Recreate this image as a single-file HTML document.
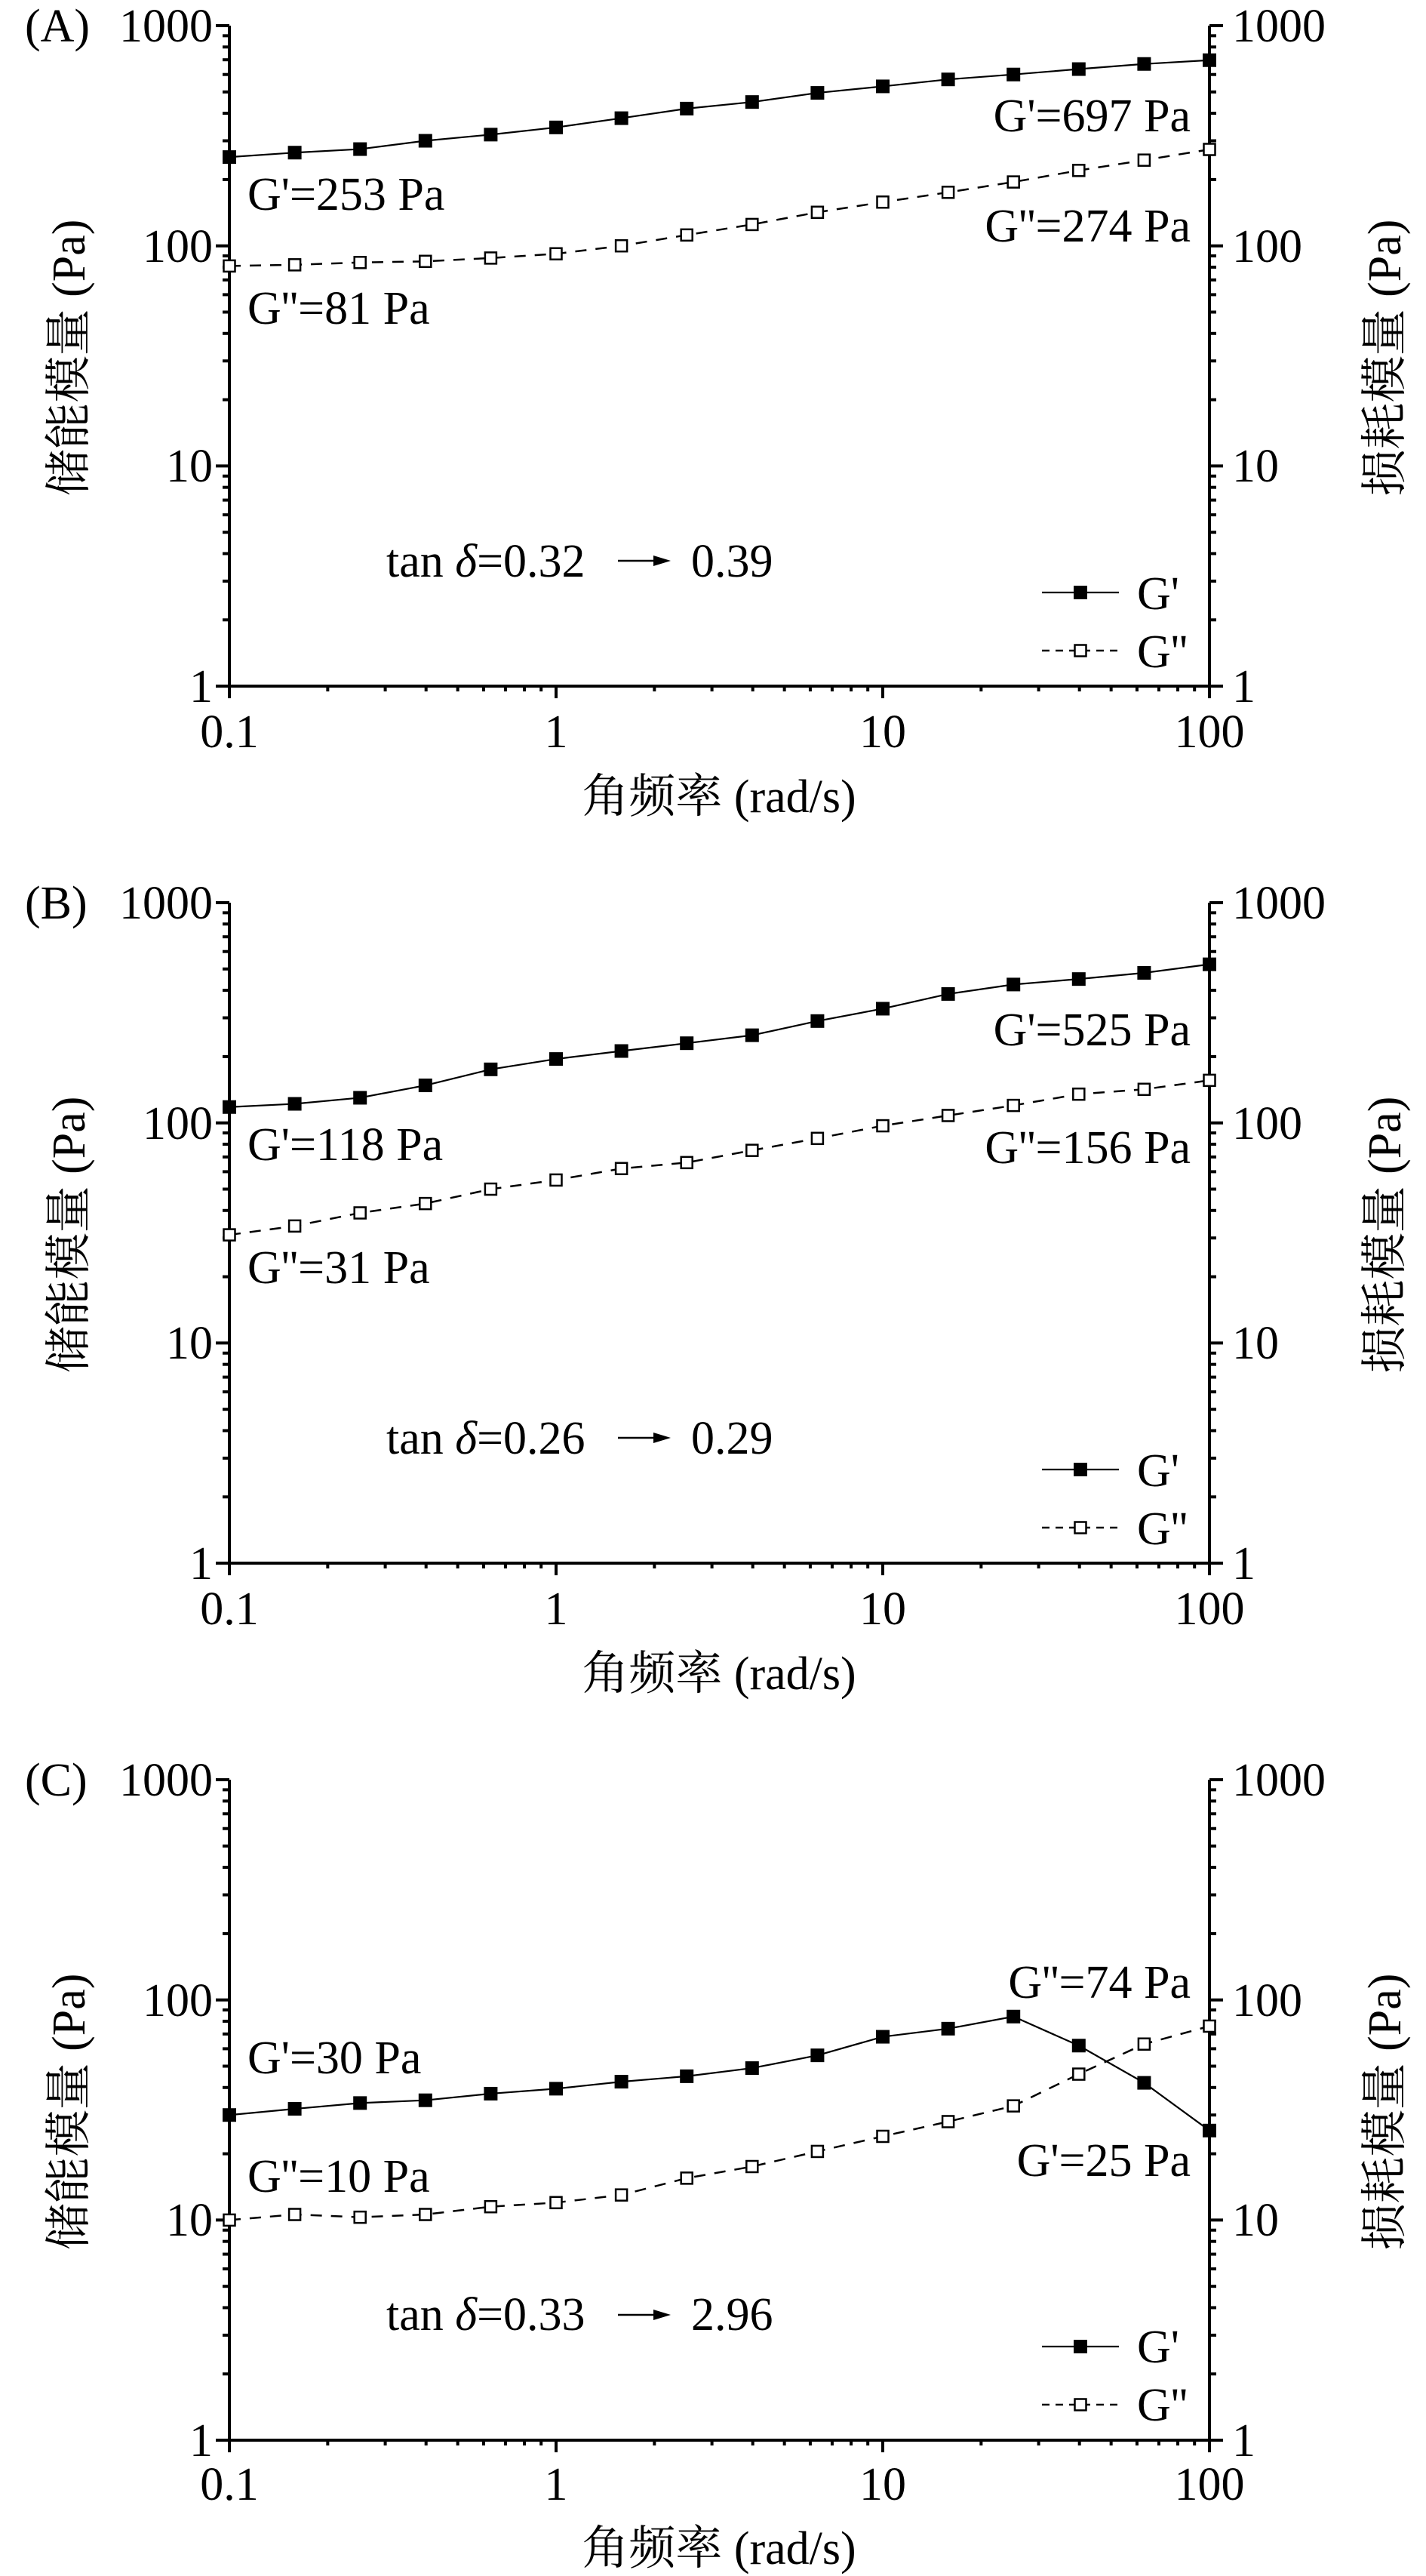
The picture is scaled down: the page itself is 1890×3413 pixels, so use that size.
<!DOCTYPE html>
<html><head><meta charset="utf-8">
<style>
html,body{margin:0;padding:0;background:#fff;}
svg{display:block;}
svg text{font-family:"Liberation Serif","Times New Roman","DejaVu Serif","Noto Serif CJK SC",serif;font-size:62px;fill:#000;}
</style></head>
<body>
<svg id="s" width="1890" height="3413" xmlns="http://www.w3.org/2000/svg" font-family="Liberation Serif, Times New Roman, DejaVu Serif, Noto Serif CJK SC, serif" font-size="62">
<g id="g"></g>
<!-- Panel A (top 34) -->
<text x="33" y="55">(A)</text>
<text x="282" y="55" text-anchor="end">1000</text>
<text x="282" y="347" text-anchor="end">100</text>
<text x="282" y="638" text-anchor="end">10</text>
<text x="282" y="930" text-anchor="end">1</text>
<text x="1633" y="55">1000</text>
<text x="1633" y="347">100</text>
<text x="1633" y="638">10</text>
<text x="1633" y="930">1</text>
<text x="304" y="990" text-anchor="middle">0.1</text>
<text x="737" y="990" text-anchor="middle">1</text>
<text x="1170" y="990" text-anchor="middle">10</text>
<text x="1603" y="990" text-anchor="middle">100</text>
<text x="953" y="1076" text-anchor="middle">角频率 (rad/s)</text>
<text transform="translate(112,474) rotate(-90)" text-anchor="middle">储能模量 (Pa)</text>
<text transform="translate(1856,474) rotate(-90)" text-anchor="middle">损耗模量 (Pa)</text>
<text x="328" y="278">G'=253 Pa</text>
<text x="328" y="429">G''=81 Pa</text>
<text x="1578" y="174" text-anchor="end">G'=697 Pa</text>
<text x="1578" y="320" text-anchor="end">G''=274 Pa</text>
<text x="512" y="764">tan <tspan font-style="italic">δ</tspan>=0.32</text>
<text x="916" y="764">0.39</text>
<text x="1507" y="807">G'</text>
<text x="1507" y="884">G''</text>

<!-- Panel B (top 1196) -->
<text x="33" y="1217">(B)</text>
<text x="282" y="1217" text-anchor="end">1000</text>
<text x="282" y="1509" text-anchor="end">100</text>
<text x="282" y="1800" text-anchor="end">10</text>
<text x="282" y="2092" text-anchor="end">1</text>
<text x="1633" y="1217">1000</text>
<text x="1633" y="1509">100</text>
<text x="1633" y="1800">10</text>
<text x="1633" y="2092">1</text>
<text x="304" y="2152" text-anchor="middle">0.1</text>
<text x="737" y="2152" text-anchor="middle">1</text>
<text x="1170" y="2152" text-anchor="middle">10</text>
<text x="1603" y="2152" text-anchor="middle">100</text>
<text x="953" y="2238" text-anchor="middle">角频率 (rad/s)</text>
<text transform="translate(112,1636) rotate(-90)" text-anchor="middle">储能模量 (Pa)</text>
<text transform="translate(1856,1636) rotate(-90)" text-anchor="middle">损耗模量 (Pa)</text>
<text x="328" y="1537">G'=118 Pa</text>
<text x="328" y="1700">G''=31 Pa</text>
<text x="1578" y="1385" text-anchor="end">G'=525 Pa</text>
<text x="1578" y="1541" text-anchor="end">G''=156 Pa</text>
<text x="512" y="1926">tan <tspan font-style="italic">δ</tspan>=0.26</text>
<text x="916" y="1926">0.29</text>
<text x="1507" y="1969">G'</text>
<text x="1507" y="2046">G''</text>

<!-- Panel C (top 2358) -->
<text x="33" y="2379">(C)</text>
<text x="282" y="2379" text-anchor="end">1000</text>
<text x="282" y="2671" text-anchor="end">100</text>
<text x="282" y="2962" text-anchor="end">10</text>
<text x="282" y="3254" text-anchor="end">1</text>
<text x="1633" y="2379">1000</text>
<text x="1633" y="2671">100</text>
<text x="1633" y="2962">10</text>
<text x="1633" y="3254">1</text>
<text x="304" y="3312" text-anchor="middle">0.1</text>
<text x="737" y="3312" text-anchor="middle">1</text>
<text x="1170" y="3312" text-anchor="middle">10</text>
<text x="1603" y="3312" text-anchor="middle">100</text>
<text x="953" y="3397" text-anchor="middle">角频率 (rad/s)</text>
<text transform="translate(112,2798) rotate(-90)" text-anchor="middle">储能模量 (Pa)</text>
<text transform="translate(1856,2798) rotate(-90)" text-anchor="middle">损耗模量 (Pa)</text>
<text x="328" y="2747">G'=30 Pa</text>
<text x="328" y="2904">G''=10 Pa</text>
<text x="1578" y="2647" text-anchor="end">G''=74 Pa</text>
<text x="1578" y="2883" text-anchor="end">G'=25 Pa</text>
<text x="512" y="3087">tan <tspan font-style="italic">δ</tspan>=0.33</text>
<text x="916" y="3087">2.96</text>
<text x="1507" y="3130">G'</text>
<text x="1507" y="3207">G''</text>
</svg>
<script>
(function(){
var NS="http://www.w3.org/2000/svg",g=document.getElementById("g");
function el(t,a){var e=document.createElementNS(NS,t);for(var k in a)e.setAttribute(k,a[k]);g.appendChild(e);return e;}
var X0=304,X1=1603,XD=(X1-X0)/3,YD=291.7;
var freqs=[];for(var i=0;i<16;i++)freqs.push(Math.pow(10,-1+i*0.2));
var panels=[
{T:34,gp:[253,265,275,300,320,345,380,420,450,495,530,570,600,635,670,697],
 gpp:[81,82,84,85,88,92,100,112,125,142,158,175,195,220,245,274]},
{T:1196,gp:[118,122,130,148,175,195,212,230,250,290,330,385,425,450,480,525],
 gpp:[31,34,39,43,50,55,62,66,75,85,97,108,120,135,142,156]},
{T:2358,gp:[30,32,34,35,37.5,39.5,42.5,45,49,56,68,74,84,62,42,25.5],
 gpp:[10,10.6,10.3,10.6,11.5,12,13,15.5,17.5,20.5,24,28,33,46,63,76]}
];
panels.forEach(function(p){
 var T=p.T,B=T+3*YD;
 function X(f){return X0+(Math.log10(f)+1)*XD;}
 function Y(v){return T+(3-Math.log10(v))*YD;}
 el("line",{x1:X0,y1:T,x2:X0,y2:B+2,stroke:"#000","stroke-width":4});
 el("line",{x1:X1,y1:T,x2:X1,y2:B+2,stroke:"#000","stroke-width":4});
 el("line",{x1:X0-2,y1:B,x2:X1+2,y2:B,stroke:"#000","stroke-width":4});
 for(var d=0;d<3;d++){for(var m=1;m<=10;m++){
   var y=T+(3-d-Math.log10(m))*YD; var L=(m==1||m==10)?18:9;
   if(m==10&&d<2)continue;
   el("line",{x1:X0-L,y1:y,x2:X0,y2:y,stroke:"#000","stroke-width":4});
   el("line",{x1:X1,y1:y,x2:X1+L,y2:y,stroke:"#000","stroke-width":4});
   var x=X0+(d+Math.log10(m))*XD;
   el("line",{x1:x,y1:B,x2:x,y2:B+L-2,stroke:"#000","stroke-width":4});
 }}
 var pts1=p.gp.map(function(v,i){return X(freqs[i])+","+Y(v);}).join(" ");
 var pts2=p.gpp.map(function(v,i){return X(freqs[i])+","+Y(v);}).join(" ");
 el("polyline",{points:pts2,fill:"none",stroke:"#000","stroke-width":2.5,"stroke-dasharray":"15,12"});
 el("polyline",{points:pts1,fill:"none",stroke:"#000","stroke-width":2.2});
 p.gp.forEach(function(v,i){el("rect",{x:X(freqs[i])-9,y:Y(v)-9,width:18,height:18,fill:"#000"});});
 p.gpp.forEach(function(v,i){el("rect",{x:X(freqs[i])-7.5,y:Y(v)-7.5,width:15,height:15,fill:"#fff",stroke:"#000","stroke-width":2.5});});
 var ly1=T+751,ly2=T+828;
 el("line",{x1:1381,y1:ly1,x2:1483,y2:ly1,stroke:"#000","stroke-width":2.2});
 el("rect",{x:1423,y:ly1-9,width:18,height:18,fill:"#000"});
 el("line",{x1:1381,y1:ly2,x2:1483,y2:ly2,stroke:"#000","stroke-width":2.5,"stroke-dasharray":"10,8"});
 el("rect",{x:1424.5,y:ly2-7.5,width:15,height:15,fill:"#fff",stroke:"#000","stroke-width":2.5});
 var ay=T+729-20;
 el("line",{x1:819,y1:ay,x2:872,y2:ay,stroke:"#000","stroke-width":2.5});
 el("polygon",{points:"889,"+ay+" 866,"+(ay-7)+" 866,"+(ay+7),fill:"#000"});
});
})();
</script>
</body></html>
